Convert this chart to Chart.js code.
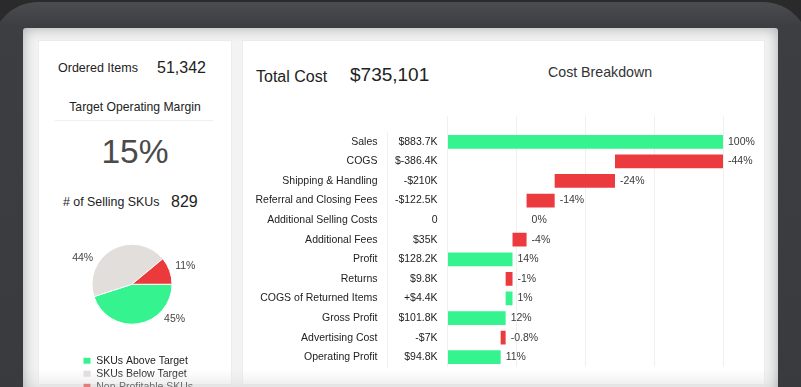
<!DOCTYPE html>
<html>
<head>
<meta charset="utf-8">
<script src="https://cdn.jsdelivr.net/npm/chart.js@4"></script>
<style>
  html, body { margin: 0; padding: 0; }
  body {
    width: 801px; height: 387px; overflow: hidden; position: relative;
    background: #2a2a2b;
    font-family: "Liberation Sans", Arial, sans-serif; color: #222;
  }
  .bezel {
    position: absolute; left: -8px; top: 2px; width: 817px; height: 440px;
    border-radius: 46px;
    background: linear-gradient(#4b4c4f, #3d3e41 24px, #393a3d);
  }
  .screen {
    position: absolute; left: 23px; top: 28px; width: 755px; height: 380px;
    background: #f3f3f3; border-radius: 3px;
  }
  .panel { position: absolute; background: #fff; border: 1px solid #ededed; box-sizing: border-box; }
  .txt { position: absolute; white-space: nowrap; }
  .vignette {
    position: absolute; left: 23px; top: 28px; width: 755px; height: 380px;
    border-radius: 3px; pointer-events: none;
    box-shadow: inset 0 0 14px rgba(0,0,0,0.30);
  }
  .bottomShade {
    position: absolute; left: 23px; top: 370px; width: 755px; height: 17px; pointer-events: none;
    background: linear-gradient(rgba(236,236,236,0), rgba(226,226,226,0.3) 50%, rgba(212,212,212,0.45));
  }
  canvas { position: absolute; }
</style>
</head>
<body>
<div class="bezel"></div>
<div class="screen"></div>

<div class="panel" style="left:38px; top:40px; width:194px; height:345px;"></div>
<div class="panel" style="left:242px; top:40px; width:523px; height:345px;"></div>

<!-- left panel -->
<div class="txt" style="left:58px; top:58px; font-size:12.5px; line-height:20px;">Ordered Items</div>
<div class="txt" style="left:157px; top:57px; font-size:16px; line-height:21px;">51,342</div>
<div class="txt" style="left:38px; width:194px; text-align:center; top:97px; font-size:12.2px; line-height:20px;">Target Operating Margin</div>
<div style="position:absolute; left:55px; top:120px; width:158px; height:1px; background:#efefef;"></div>
<div class="txt" style="left:38px; width:194px; text-align:center; top:130px; font-size:33.5px; line-height:44px; color:#4a4a4a;">15%</div>
<div class="txt" style="left:63px; top:192px; font-size:12.4px; line-height:20px;"># of Selling SKUs</div>
<div class="txt" style="left:171px; top:191px; font-size:16px; line-height:21px;">829</div>

<!-- right panel -->
<div class="txt" style="left:256px; top:66px; font-size:16px; line-height:22px;">Total Cost</div>
<div class="txt" style="left:350px; top:62px; font-size:19px; line-height:26px;">$735,101</div>
<div class="txt" style="left:548px; top:62px; font-size:14.2px; line-height:21px; color:#333;">Cost Breakdown</div>

<canvas id="skuChart" width="190" height="188" style="left:40px; top:214px;"></canvas>
<canvas id="costChart" width="515" height="268" style="left:245px; top:106px;"></canvas>

<div class="bottomShade"></div>
<div class="vignette"></div>

<script>
const GREEN = '#35f48f';
const RED = '#ec3b3e';
const FONT = '"Liberation Sans", Arial, sans-serif';

// cost breakdown (waterfall, axis in % of sales)
const categories = ['Sales', 'COGS', 'Shipping & Handling', 'Referral and Closing Fees',
  'Additional Selling Costs', 'Additional Fees', 'Profit', 'Returns',
  'COGS of Returned Items', 'Gross Profit', 'Advertising Cost', 'Operating Profit'];
const amountLabels = ['$883.7K', '$-386.4K', '-$210K', '-$122.5K', '0', '$35K',
  '$128.2K', '$9.8K', '+$4.4K', '$101.8K', '-$7K', '$94.8K'];
const pctLabels = ['100%', '-44%', '-24%', '-14%', '0%', '-4%', '14%', '-1%', '1%', '12%', '-0.8%', '11%'];
const barStart = [0, 60.8, 38.9, 28.7, 28.7, 23.6, 0, 21.1, 21.1, 0, 19.3, 0];
const barEnd = [100, 100, 60.8, 38.9, 28.7, 28.7, 23.6, 23.6, 23.6, 21.1, 21.1, 19.3];

// SKU split
const skuLabels = ['SKUs Above Target', 'SKUs Below Target', 'Non-Profitable SKUs'];
const skuShares = [45, 44, 11];
const skuColors = [GREEN, '#e2dedb', '#eb3a3b'];
const sliceLabelAt = [0.29, 0.33, 0.41]; // where along each slice its % label sits

const barValueLabels = {
  id: 'barValueLabels',
  afterDatasetsDraw(chart) {
    const ctx = chart.ctx;
    ctx.save();
    ctx.font = '10.5px ' + FONT;
    ctx.fillStyle = '#3a3a3a';
    ctx.textAlign = 'left';
    ctx.textBaseline = 'middle';
    chart.getDatasetMeta(0).data.forEach((bar, i) => {
      ctx.fillText(pctLabels[i], Math.max(bar.x, bar.base) + 5, bar.y);
    });
    ctx.restore();
  }
};

const pieLabels = {
  id: 'pieLabels',
  afterDatasetsDraw(chart) {
    const ctx = chart.ctx;
    ctx.save();
    ctx.font = '10.5px ' + FONT;
    ctx.fillStyle = '#444';
    ctx.textBaseline = 'middle';
    chart.getDatasetMeta(0).data.forEach((arc, i) => {
      const a = arc.startAngle + sliceLabelAt[i] * (arc.endAngle - arc.startAngle);
      const r = arc.outerRadius + 7;
      ctx.textAlign = Math.cos(a) >= 0 ? 'left' : 'right';
      ctx.fillText(skuShares[i] + '%', arc.x + Math.cos(a) * r, arc.y + Math.sin(a) * r);
    });
    ctx.restore();
  }
};

function flatAxis(width) {
  return function (s) {
    s.width = width;
    s.paddingTop = 0;
    s.paddingBottom = 0;
  };
}

new Chart(document.getElementById('costChart'), {
  type: 'bar',
  data: {
    labels: categories,
    datasets: [{
      data: barStart.map((s, i) => [s, barEnd[i]]),
      backgroundColor: pctLabels.map(p => p.startsWith('-') ? RED : GREEN),
      borderWidth: 0,
      categoryPercentage: 1,
      barPercentage: 0.7,
    }],
  },
  options: {
    indexAxis: 'y',
    responsive: false,
    animation: false,
    layout: { padding: { top: 10, right: 37, bottom: 7, left: 0 } },
    plugins: { legend: { display: false }, tooltip: { enabled: false } },
    scales: {
      x: {
        position: 'top', min: 0, max: 100,
        ticks: { display: false, stepSize: 25 },
        grid: { color: '#f0f0f0', drawTicks: true, tickLength: 16 },
        border: { display: false },
      },
      y: {
        weight: 1,
        grid: { display: false, drawTicks: false },
        border: { display: true, color: '#f0f0f0' },
        ticks: { padding: 10, color: '#222', font: { family: FONT, size: 10.5 } },
        afterFit: flatAxis(142.5),
      },
      amt: {
        type: 'category', position: 'left', weight: 0, offset: true,
        labels: amountLabels,
        grid: { display: false, drawTicks: false },
        border: { display: false },
        ticks: { padding: 10, color: '#222', font: { family: FONT, size: 10.5 } },
        afterFit: flatAxis(60),
      },
    },
  },
  plugins: [barValueLabels],
});

new Chart(document.getElementById('skuChart'), {
  type: 'pie',
  data: {
    labels: skuLabels,
    datasets: [{
      data: skuShares,
      backgroundColor: skuColors,
      borderColor: '#ffffff',
      borderWidth: 1,
    }],
  },
  options: {
    responsive: false,
    animation: false,
    rotation: 90,
    radius: 40,
    layout: { padding: { top: 1.5, right: 0, bottom: 0, left: 40.5 } },
    plugins: {
      tooltip: { enabled: false },
      // empty spacer on the right so the pie sits left of centre while the legend keeps full width
      title: {
        display: true, text: ' ', position: 'right', fullSize: false,
        font: { size: 10, lineHeight: 1 }, padding: { top: 18.25, bottom: 18.25 },
      },
      legend: {
        position: 'bottom', align: 'start',
        labels: { boxWidth: 8, boxHeight: 7, padding: 2.5, color: '#222', font: { family: FONT, size: 10.5 } },
      },
    },
  },
  plugins: [pieLabels],
});
</script>
</body>
</html>
